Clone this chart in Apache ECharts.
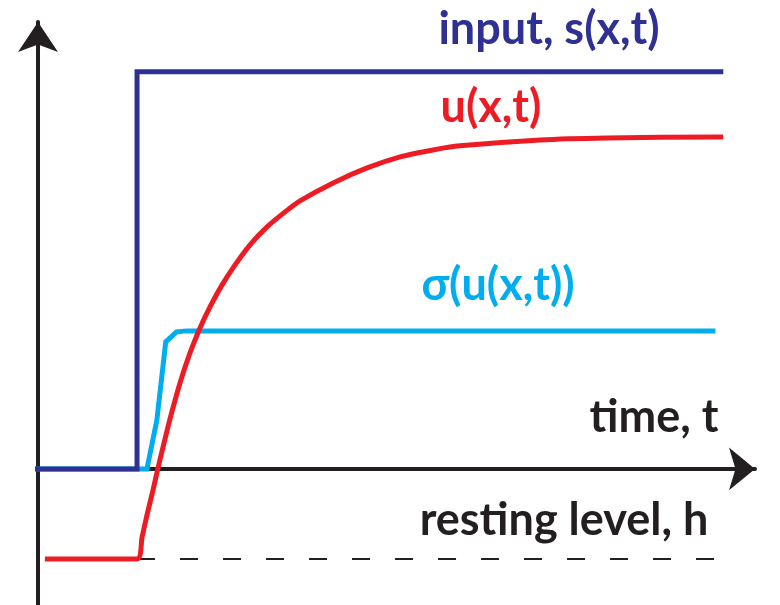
<!DOCTYPE html>
<html>
<head>
<meta charset="utf-8">
<script src="https://cdn.jsdelivr.net/npm/echarts@6/dist/echarts.min.js"></script>
<style>
  html, body { margin: 0; padding: 0; background: #ffffff; }
  #chart { width: 780px; height: 605px; }
</style>
</head>
<body>
<div id="chart"></div>
<script>
// Time axis (arbitrary units) and activation values for each curve
const inputTime   = [-0.03, 1.0, 1.0, 6.92];
const inputValue  = [0, 0, 4.0, 4.0];

const uTime  = [0.07, 1.000, 1.051, 1.101, 1.162, 1.212, 1.273, 1.333, 1.434, 1.535,
                1.636, 1.737, 1.859, 1.990, 2.141, 2.313, 2.495, 2.646, 2.980, 3.323,
                3.657, 3.990, 4.263, 5.071, 5.747, 6.919];
const uValue = [-0.906, -0.906, -0.685, -0.463, -0.211, 0.010, 0.262, 0.504, 0.866, 1.168,
                1.420, 1.631, 1.853, 2.054, 2.256, 2.437, 2.588, 2.699, 2.880, 3.031,
                3.142, 3.212, 3.253, 3.313, 3.333, 3.343];

const sigmaTime  = [-0.04, 1.10, 1.20, 1.29, 1.40, 1.50, 6.84];
const sigmaValue = [0, 0, 0.49, 1.28, 1.38, 1.39, 1.39];

const restingTime  = [1.0, 6.92];
const restingLevel = -0.906;

const labels = {
  input: 'input, s(x,t)',
  u: 'u(x,t)',
  sigma: 'σ(u(x,t))',
  time: 'time, t',
  rest: 'resting level, h'
};

const pairs = (xs, ys) => xs.map((x, i) => [x, ys[i]]);

const FONT = 'Lato, "Open Sans", sans-serif';
const FONT_SIZE = 45;
const chart = echarts.init(document.getElementById('chart'), null, { renderer: 'canvas' });

// centred text label; y is the top of the text box
const textEl = (text, cx, y, color) => ({
  type: 'text',
  x: cx,
  y: y,
  style: {
    text: text, fill: color,
    font: 'bold ' + FONT_SIZE + 'px ' + FONT,
    textAlign: 'center', textVerticalAlign: 'top'
  }
});

chart.setOption({
  animation: false,
  backgroundColor: '#ffffff',
  grid: { left: 38, right: 25, top: 22, bottom: 0, containLabel: false },
  xAxis: {
    type: 'value', min: 0, max: 7.24,
    axisLine: {
      onZero: true,
      symbol: ['none', 'arrow'], symbolSize: [32, 26],
      lineStyle: { color: '#231f20', width: 4 }
    },
    axisTick: { show: false }, axisLabel: { show: false }, splitLine: { show: false }
  },
  yAxis: {
    type: 'value', min: -1.37, max: 4.5,
    axisLine: {
      show: true,
      symbol: ['none', 'arrow'], symbolSize: [30, 30],
      lineStyle: { color: '#231f20', width: 4 }
    },
    axisTick: { show: false }, axisLabel: { show: false }, splitLine: { show: false }
  },
  series: [
    {
      name: 'sigma', type: 'line', clip: false, showSymbol: false,
      data: pairs(sigmaTime, sigmaValue),
      lineStyle: { color: '#00aeef', width: 5, join: 'miter' }, z: 3
    },
    {
      name: 'input', type: 'line', clip: false, showSymbol: false,
      data: pairs(inputTime, inputValue),
      lineStyle: { color: '#2e3192', width: 5, join: 'miter' }, z: 4
    },
    {
      name: 'resting', type: 'line', clip: false, showSymbol: false,
      data: restingTime.map(t => [t, restingLevel]),
      lineStyle: { color: '#231f20', width: 2, type: [18, 25] }, z: 2
    },
    {
      name: 'u', type: 'line', clip: false, showSymbol: false, smooth: 0.25,
      data: pairs(uTime, uValue),
      lineStyle: { color: '#ed1c24', width: 5, join: 'miter' }, z: 5
    }
  ],
  graphic: [
    textEl(labels.input, 549, 7, '#2e3192'),
    textEl(labels.u, 491, 85, '#ed1c24'),
    textEl(labels.sigma, 498, 263, '#00aeef'),
    textEl(labels.time, 654, 395, '#231f20'),
    textEl(labels.rest, 564, 498, '#231f20')
  ]
});
</script>
</body>
</html>
